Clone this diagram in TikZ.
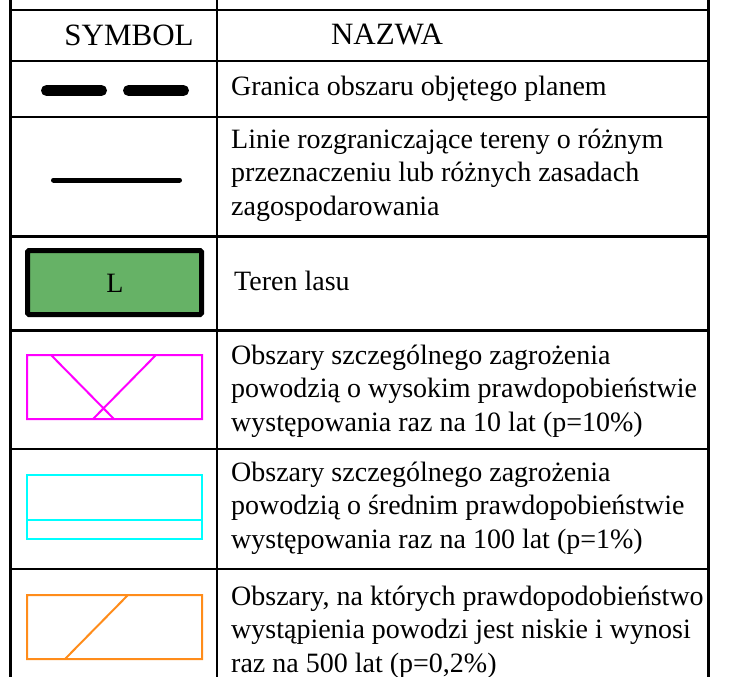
\documentclass[tikz,border=0pt]{standalone}
\usepackage{fontspec}
\setmainfont{Liberation Serif}
\usepackage{xcolor}
\usepackage{tikz}

\definecolor{lasGreen}{RGB}{102,178,102}
\definecolor{floodMagenta}{RGB}{255,0,255}
\definecolor{floodCyan}{RGB}{0,255,255}
\definecolor{floodOrange}{RGB}{255,140,26}

\begin{document}
\begin{tikzpicture}[x=1pt,y=-1pt,
        rule/.style = {line width=2.2pt},
        thickRule/.style = {line width=3pt},
        txt/.style = {anchor=west, inner sep=0pt, align=left,
            font=\fontsize{28}{33.5}\selectfont},
        headTxt/.style = {inner sep=0pt,
            font=\fontsize{31}{36}\selectfont},
        floodBox/.style = {line width=2pt}]

        \useasboundingbox (0,0) rectangle (745,677);

        % Table grid
        \draw[thickRule] (10,0) -- (10,677);
        \draw[rule] (217,0) -- (217,677);
        \draw[thickRule] (708,0) -- (708,677);
        \foreach \y in {10,61,117,449,569}
            \draw[rule] (10,\y) -- (708,\y);
        \foreach \y in {236,330}
            \draw[thickRule] (10,\y) -- (708,\y);

        % Header
        \node[headTxt] (symbolHead) at (129,35) {SYMBOL};
        \node[headTxt] (nameHead) at (387,35) {NAZWA};

        % Plan boundary
        \draw[line width=11pt, line cap=round] (46.5,90.5) -- (101.5,90.5)
            (128.5,90.5) -- (183.5,90.5);
        \node[txt] (granica) at (231,89) {Granica obszaru objętego planem};

        % Dividing lines
        \draw[line width=5pt, line cap=round] (53.5,180) -- (179.5,180);
        \node[txt] (linie) at (231,175) {Linie rozgraniczające tereny o różnym\\
            przeznaczeniu lub różnych zasadach\\ zagospodarowania};

        % Forest
        \draw[line width=5pt, rounded corners=1.5pt, fill=lasGreen]
            (27.5,250.5) rectangle (201.5,314.5);
        \node[inner sep=0pt, font=\fontsize{28}{32}\selectfont] (lasL) at (115,283) {L};
        \node[txt] (las) at (234,281) {Teren lasu};

        % Flood 10%
        \draw[floodBox, floodMagenta] (27,355) rectangle (202,419)
            (51,355) -- (114,419) (156,355) -- (93,419);
        \node[txt] (zagr10) at (231,391) {Obszary szczególnego zagrożenia\\
            powodzią o wysokim prawdopobieństwie\\
            występowania raz na 10 lat (p=10\%)};

        % Flood 1%
        \draw[floodBox, floodCyan] (27,475) rectangle (202,539)
            (27,520) -- (202,520);
        \node[txt] (zagr1) at (231,508) {Obszary szczególnego zagrożenia\\
            powodzią o średnim prawdopobieństwie\\
            występowania raz na 100 lat (p=1\%)};

        % Flood 0,2%
        \draw[floodBox, floodOrange] (27,595) rectangle (202,659)
            (65,659) -- (128,595);
        \node[txt] (zagr02) at (231,632) {Obszary, na których prawdopodobieństwo\\
            wystąpienia powodzi jest niskie i wynosi\\
            raz na 500 lat (p=0,2\%)};
    \end{tikzpicture}
\end{document}
